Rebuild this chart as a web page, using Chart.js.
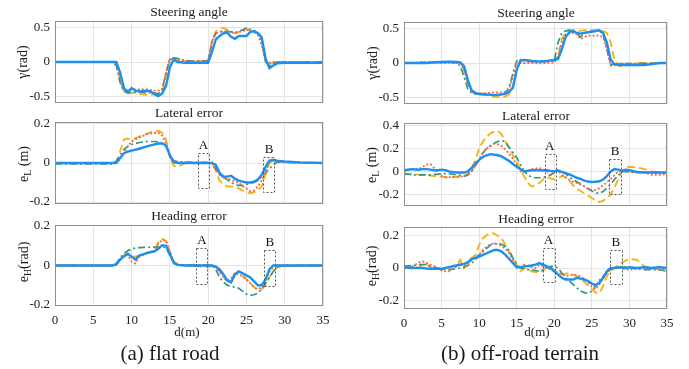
<!DOCTYPE html>
<html>
<head>
<meta charset="utf-8">
<script src="https://cdn.jsdelivr.net/npm/chart.js@4.4.0/dist/chart.umd.min.js"></script>
<style>
  body { margin:0; background:#fff; width:689px; height:369px; position:relative; overflow:hidden;
         font-family:"Liberation Serif","Times New Roman",serif; color:#1a1a1a; }
  canvas { position:absolute; }
  .txt { position:absolute; white-space:nowrap; transform:translate(-50%,-50%); line-height:1; z-index:2; }
  .ttl { font-size:13.5px; }
  .ylab { font-size:14px; transform:translate(-50%,-50%) rotate(-90deg); }
  .ylab sub { font-size:10px; vertical-align:-3px; }
  .xlab { font-size:13px; }
  .cap { font-size:21px; }
</style>
</head>
<body>
<div class="txt ttl" style="left:189px;top:12px">Steering angle</div>
<div class="txt ttl" style="left:536px;top:13px">Steering angle</div>
<div class="txt ttl" style="left:189px;top:113px">Lateral error</div>
<div class="txt ttl" style="left:536px;top:116px">Lateral error</div>
<div class="txt ttl" style="left:189px;top:216px">Heading error</div>
<div class="txt ttl" style="left:536px;top:219px">Heading error</div>

<div class="txt ylab" style="left:23px;top:62px">γ(rad)</div>
<div class="txt ylab" style="left:25px;top:164px">e<sub>L</sub> (m)</div>
<div class="txt ylab" style="left:25px;top:262px">e<sub>H</sub>(rad)</div>
<div class="txt ylab" style="left:373px;top:63px">γ(rad)</div>
<div class="txt ylab" style="left:373px;top:165px">e<sub>L</sub> (m)</div>
<div class="txt ylab" style="left:373px;top:266px">e<sub>H</sub>(rad)</div>

<div class="txt xlab" style="left:187px;top:331px">d(m)</div>
<div class="txt xlab" style="left:537px;top:331px">d(m)</div>
<div class="txt cap" style="left:170px;top:353px">(a) flat road</div>
<div class="txt cap" style="left:520px;top:353px">(b) off-road terrain</div>

<script>
// x ticks shared by every panel
const distTicks = [0, 5, 10, 15, 20, 25, 30, 35];

// ---- flat road: steering angle (rad)
const flatSteerD = [0, 7.5, 8, 8.5, 9, 9.5, 10, 10.5, 11, 12, 12.5, 13, 13.5, 14, 14.5, 15, 15.5, 16, 17, 19, 20, 20.5, 21, 21.5, 22, 22.5, 23, 23.5, 24, 24.5, 25, 25.5, 26, 26.5, 27, 27.5, 28, 28.5, 29, 30, 35];
const flatSteerSolid   = [0, 0, 0, -0.15, -0.38, -0.44, -0.38, -0.42, -0.43, -0.42, -0.43, -0.47, -0.5, -0.46, -0.35, -0.08, 0.04, 0, -0.01, -0.01, -0.01, 0.15, 0.33, 0.38, 0.42, 0.43, 0.37, 0.34, 0.38, 0.38, 0.38, 0.44, 0.45, 0.42, 0.36, 0.05, -0.09, -0.05, -0.02, -0.01, -0.01];
const flatSteerDotted  = [0, 0, 0, -0.25, -0.4, -0.42, -0.4, -0.4, -0.4, -0.4, -0.41, -0.42, -0.42, -0.4, -0.15, 0.04, 0.05, 0.03, 0.01, 0.01, 0.01, 0.3, 0.42, 0.44, 0.45, 0.44, 0.44, 0.42, 0.44, 0.45, 0.47, 0.46, 0.44, 0.4, 0.25, 0, -0.01, 0, 0, 0, 0];
const flatSteerDashDot = [0, 0, -0.05, -0.3, -0.43, -0.45, -0.44, -0.44, -0.44, -0.45, -0.45, -0.45, -0.47, -0.4, -0.15, 0.05, 0.06, 0.05, 0.02, 0.01, 0.02, 0.3, 0.42, 0.44, 0.45, 0.45, 0.44, 0.43, 0.45, 0.47, 0.5, 0.48, 0.46, 0.42, 0.3, 0, -0.06, -0.02, 0, 0, 0];
const flatSteerDashed  = [0, 0, 0, -0.25, -0.44, -0.46, -0.45, -0.45, -0.47, -0.48, -0.48, -0.47, -0.46, -0.44, -0.2, 0.03, 0.06, 0.05, 0.02, 0.01, 0.02, 0.3, 0.45, 0.49, 0.5, 0.47, 0.44, 0.42, 0.44, 0.46, 0.48, 0.47, 0.44, 0.42, 0.32, 0, -0.03, -0.01, 0, 0, 0];

// ---- flat road: lateral error (m)
const flatLatD = [0, 7.5, 8, 8.5, 9, 9.5, 10, 11, 12, 13, 13.5, 14, 14.5, 15, 15.5, 16, 17, 20, 20.5, 21, 21.5, 22, 22.5, 23, 23.5, 24, 24.5, 25, 25.5, 26, 26.5, 27, 27.5, 28, 28.5, 29, 30, 32, 35];
const flatLatSolid   = [0, 0, 0, 0.025, 0.05, 0.058, 0.063, 0.073, 0.085, 0.095, 0.1, 0.1, 0.09, 0.04, 0.004, 0, 0, 0, 0, -0.01, -0.05, -0.07, -0.07, -0.065, -0.08, -0.09, -0.095, -0.1, -0.1, -0.095, -0.085, -0.06, -0.02, 0.012, 0.015, 0.012, 0.008, 0.003, 0];
const flatLatDotted  = [0, 0, 0, 0.02, 0.05, 0.085, 0.11, 0.13, 0.148, 0.155, 0.155, 0.14, 0.1, 0.03, 0.012, 0.006, 0.002, 0, 0, -0.03, -0.06, -0.075, -0.08, -0.085, -0.095, -0.1, -0.12, -0.13, -0.145, -0.14, -0.12, -0.09, -0.04, 0.008, 0.012, 0.008, 0.003, 0, 0];
const flatLatDashDot = [-0.005, -0.005, 0.01, 0.04, 0.07, 0.085, 0.095, 0.105, 0.11, 0.11, 0.108, 0.1, 0.085, 0.04, 0.012, 0.006, 0.004, 0.003, 0, -0.03, -0.06, -0.075, -0.085, -0.1, -0.11, -0.115, -0.115, -0.11, -0.105, -0.1, -0.09, -0.07, -0.05, -0.03, -0.01, 0.004, 0.005, 0.002, 0];
const flatLatDashed  = [0, 0, 0, 0.06, 0.12, 0.125, 0.12, 0.135, 0.15, 0.165, 0.165, 0.155, 0.12, 0.03, -0.015, -0.02, 0, 0, 0, -0.04, -0.09, -0.11, -0.12, -0.12, -0.12, -0.13, -0.14, -0.15, -0.155, -0.15, -0.14, -0.12, -0.06, 0, 0.012, 0.008, 0.003, 0, 0];

// ---- flat road: heading error (rad)
const flatHeadD = [0, 7.5, 8, 8.5, 9, 9.5, 10, 10.5, 11, 12, 13, 13.5, 14, 14.5, 15, 15.5, 16, 17, 19, 20, 20.5, 21, 21.5, 22, 22.5, 23, 23.5, 24, 24.5, 25, 25.5, 26, 26.5, 27, 27.5, 28, 28.5, 29, 30, 35];
const flatHeadSolid   = [0, 0, 0.005, 0.03, 0.045, 0.06, 0.045, 0.03, 0.05, 0.063, 0.072, 0.085, 0.103, 0.1, 0.06, 0.015, 0.003, 0, 0, 0, 0, -0.005, -0.02, -0.045, -0.075, -0.085, -0.045, -0.03, -0.04, -0.05, -0.06, -0.08, -0.1, -0.1, -0.07, -0.02, 0, 0, 0, 0];
const flatHeadDotted  = [0, 0, 0.003, 0.03, 0.05, 0.055, 0.02, 0.01, 0.045, 0.062, 0.075, 0.11, 0.13, 0.125, 0.07, 0.015, 0.005, 0, 0, 0, 0, -0.01, -0.03, -0.06, -0.08, -0.065, -0.04, -0.045, -0.055, -0.07, -0.09, -0.11, -0.12, -0.11, -0.07, -0.03, -0.01, 0, 0, 0];
const flatHeadDashDot = [0, 0, 0.01, 0.04, 0.06, 0.075, 0.083, 0.088, 0.09, 0.092, 0.093, 0.093, 0.095, 0.09, 0.05, 0.01, 0.004, 0.003, 0.002, 0.002, 0, -0.02, -0.06, -0.085, -0.1, -0.105, -0.11, -0.115, -0.13, -0.145, -0.15, -0.148, -0.14, -0.12, -0.09, -0.06, -0.03, -0.008, 0, 0];
const flatHeadDashed  = [0, 0, 0.003, 0.03, 0.05, 0.06, 0.048, 0.045, 0.05, 0.065, 0.075, 0.12, 0.135, 0.125, 0.07, 0.02, 0.008, 0.002, -0.005, -0.01, 0, -0.01, -0.03, -0.06, -0.08, -0.07, -0.04, -0.045, -0.055, -0.07, -0.09, -0.11, -0.125, -0.12, -0.1, -0.06, -0.03, -0.01, -0.003, 0];

// ---- off-road: steering angle (rad)
const offSteerD = [0, 1, 2, 3, 4, 5, 6, 7, 7.5, 8, 8.5, 9, 9.5, 10, 11, 12, 13, 13.5, 14, 14.5, 15, 15.5, 16, 17, 18, 19, 20, 20.5, 21, 21.5, 22, 22.5, 23, 23.5, 24, 24.5, 25, 26, 26.5, 27, 27.5, 28, 28.5, 29, 30, 31, 32, 33, 34, 35];
const offSteerSolid   = [0, 0, 0.002, 0, 0.01, 0.015, 0.02, 0.015, 0.01, -0.05, -0.25, -0.4, -0.44, -0.45, -0.46, -0.47, -0.46, -0.45, -0.42, -0.36, -0.1, 0.04, 0.045, 0.03, 0.02, 0.03, 0.045, 0.06, 0.2, 0.38, 0.45, 0.47, 0.44, 0.43, 0.44, 0.45, 0.46, 0.48, 0.44, 0.3, 0.05, -0.02, -0.025, -0.03, -0.03, -0.03, -0.03, -0.015, 0, 0];
const offSteerDotted  = [0, 0, 0.01, 0.01, 0.01, 0.003, 0.003, 0.003, 0, -0.1, -0.3, -0.42, -0.44, -0.45, -0.44, -0.43, -0.43, -0.42, -0.38, -0.2, 0, 0, 0, 0, -0.005, 0, 0.005, 0.1, 0.3, 0.42, 0.43, 0.44, 0.42, 0.35, 0.38, 0.4, 0.4, 0.4, 0.38, 0.2, -0.04, -0.03, -0.01, -0.01, -0.01, -0.01, -0.01, -0.01, -0.005, 0];
const offSteerDashDot = [0, 0, 0.005, 0.01, 0.01, 0.01, 0.008, 0.005, -0.05, -0.2, -0.38, -0.44, -0.45, -0.46, -0.46, -0.47, -0.47, -0.44, -0.35, -0.15, 0.03, 0.05, 0.04, 0.03, 0.03, 0.03, 0.04, 0.3, 0.44, 0.47, 0.48, 0.46, 0.43, 0.38, 0.44, 0.46, 0.46, 0.47, 0.42, 0.2, -0.02, -0.02, -0.01, -0.01, -0.01, -0.01, -0.005, 0, 0, 0];
const offSteerDashed  = [0, 0, 0, 0.005, 0.005, 0.005, 0.005, 0.003, 0, -0.1, -0.3, -0.42, -0.45, -0.46, -0.47, -0.49, -0.5, -0.49, -0.46, -0.35, -0.1, 0.02, 0.03, 0.02, 0.02, 0.02, 0.03, 0.1, 0.35, 0.45, 0.48, 0.48, 0.47, 0.47, 0.48, 0.48, 0.48, 0.48, 0.47, 0.44, 0.3, 0.05, -0.04, -0.05, -0.02, 0, 0, 0, 0, 0];

// ---- off-road: lateral and heading error share one distance grid
const offErrD = [0, 1, 2, 2.5, 3, 3.5, 4, 4.5, 5, 5.5, 6, 7, 7.5, 8, 8.5, 9, 9.5, 10, 10.5, 11, 11.5, 12, 12.5, 13, 13.5, 14, 14.5, 15, 15.5, 16, 16.5, 17, 17.5, 18, 18.5, 19, 19.5, 20, 20.5, 21, 21.5, 22, 22.5, 23, 23.5, 24, 24.5, 25, 25.5, 26, 26.5, 27, 27.5, 28, 28.5, 29, 29.5, 30, 31, 32, 33, 34, 35];
const offLatSolid = [0.01, 0.02, 0.015, 0.02, 0.02, 0.015, 0.01, 0.01, 0.015, 0.01,
  0, -0.01, -0.01, -0.01, 0, 0.03, 0.07, 0.1, 0.125, 0.14,
  0.15, 0.145, 0.14, 0.13, 0.11, 0.09, 0.065, 0.04, 0.02, 0,
  0.005, 0.01, 0.01, 0.01, 0.008, 0.01, 0.005, 0, 0.01, -0.005,
  -0.015, -0.025, -0.04, -0.055, -0.065, -0.08, -0.088, -0.092, -0.09, -0.085,
  -0.07, -0.04, 0, 0.02, 0.015, 0.005, 0.015, 0.01, -0.005, -0.01,
  -0.01, -0.01, -0.01];
const offLatDotted = [0, 0.02, 0.02, 0.04, 0.06, 0.065, 0.03, -0.02, -0.04, -0.05,
  -0.05, -0.05, -0.045, -0.04, -0.03, 0, 0.05, 0.1, 0.16, 0.2,
  0.22, 0.24, 0.235, 0.22, 0.19, 0.15, 0.11, 0.06, 0, 0.005,
  0.01, 0.02, 0.025, 0.03, 0.02, 0, -0.03, -0.01, 0.01, -0.03,
  -0.05, -0.075, -0.09, -0.1, -0.115, -0.13, -0.15, -0.16, -0.16, -0.145,
  -0.12, -0.095, -0.065, -0.035, 0, 0, 0, -0.005, -0.01, -0.01,
  -0.03, -0.03, -0.02];
const offLatDashDot = [-0.02, -0.03, -0.03, -0.03, -0.03, -0.03, -0.025, -0.025, -0.02, -0.02,
  -0.02, -0.03, -0.035, -0.04, -0.03, 0, 0.05, 0.1, 0.16, 0.2,
  0.22, 0.245, 0.26, 0.27, 0.255, 0.21, 0.165, 0.12, 0.06, 0,
  -0.03, -0.05, -0.055, -0.055, -0.05, -0.045, -0.03, -0.01, 0, 0,
  -0.02, -0.05, -0.07, -0.09, -0.11, -0.13, -0.15, -0.17, -0.185, -0.19,
  -0.175, -0.145, -0.11, -0.07, -0.035, -0.005, 0, -0.005, -0.005, -0.005,
  -0.01, -0.01, -0.01];
const offLatDashed = [-0.02, -0.02, -0.03, -0.03, -0.03, -0.035, -0.04, -0.04, -0.045, -0.05,
  -0.05, -0.045, -0.045, -0.04, -0.02, 0.02, 0.1, 0.2, 0.26, 0.3,
  0.33, 0.345, 0.35, 0.32, 0.26, 0.2, 0.14, 0.08, 0.02, -0.045,
  -0.1, -0.13, -0.12, -0.1, -0.07, -0.05, -0.06, -0.07, -0.06, -0.04,
  -0.05, -0.08, -0.12, -0.15, -0.17, -0.19, -0.21, -0.23, -0.255, -0.265,
  -0.255, -0.23, -0.2, -0.14, -0.07, 0, 0.035, 0.04, 0.035, 0.02,
  0, -0.005, -0.01];

const offHeadSolid = [0.005, 0, 0, 0, -0.003, -0.005, -0.005, -0.005, -0.005, 0,
  0.005, 0.015, 0.02, 0.025, 0.035, 0.055, 0.062, 0.07, 0.08, 0.09,
  0.1, 0.11, 0.11, 0.1, 0.08, 0.055, 0.03, 0.005, 0.005, 0.01,
  0.012, 0.015, 0.02, 0.03, 0.02, 0.01, 0, -0.02, -0.04, -0.06,
  -0.07, -0.07, -0.07, -0.06, -0.065, -0.07, -0.08, -0.095, -0.105, -0.09,
  -0.06, -0.02, 0, 0, 0.002, 0.003, 0, 0.005, 0, 0.005,
  0, 0.005, 0];
const offHeadDotted = [0, 0.005, 0.035, 0.04, 0.03, 0.02, 0.01, 0, -0.015, -0.02,
  -0.02, 0.01, 0.03, 0.01, 0.02, 0.05, 0.065, 0.08, 0.11, 0.13,
  0.145, 0.15, 0.145, 0.135, 0.115, 0.09, 0.05, 0.01, 0, 0.02,
  0.01, 0.005, 0, 0.02, 0.01, 0, -0.01, -0.02, -0.03, -0.035,
  -0.05, -0.045, -0.04, -0.045, -0.05, -0.07, -0.09, -0.115, -0.13, -0.1,
  -0.06, -0.03, -0.01, 0, 0.005, -0.005, -0.01, -0.01, -0.005, 0,
  -0.005, -0.01, 0];
const offHeadDashDot = [0.01, 0.015, 0.02, 0.02, 0.02, 0.01, 0.005, 0, -0.005, -0.01,
  -0.01, -0.005, 0, 0.005, 0.015, 0.03, 0.05, 0.08, 0.1, 0.12,
  0.14, 0.148, 0.15, 0.145, 0.13, 0.105, 0.06, 0.025, 0, -0.005,
  -0.01, -0.01, -0.015, -0.02, -0.01, 0, 0.01, 0.01, 0, -0.03,
  -0.06, -0.08, -0.1, -0.12, -0.14, -0.15, -0.155, -0.14, -0.11, -0.075,
  -0.05, -0.025, -0.005, 0, 0.005, 0.01, 0.005, 0, -0.005, -0.01,
  -0.01, -0.01, -0.02];
const offHeadDashed = [0.01, 0.01, 0, 0.03, 0.025, 0.005, 0, -0.005, -0.01, -0.005,
  0.005, 0.02, 0.05, 0, 0.05, 0.06, 0.08, 0.14, 0.18, 0.2,
  0.215, 0.21, 0.195, 0.18, 0.14, 0.1, 0.06, 0.02, -0.02, 0,
  -0.01, -0.02, -0.025, -0.03, -0.015, 0, 0.01, -0.015, -0.03, -0.04,
  -0.035, -0.03, -0.04, -0.05, -0.07, -0.085, -0.11, -0.13, -0.15, -0.155,
  -0.11, -0.05, -0.02, 0, 0.02, 0.035, 0.045, 0.055, 0.05, 0.01,
  0, -0.01, -0.005];

// dashed comparison windows A and B: [dFrom, dTo, top, bottom]
const flatLatBoxes  = [[18.65, 20.1, 0.05, -0.13], [27.2, 28.7, 0.03, -0.15]];
const flatHeadBoxes = [[18.45, 19.9, 0.088, -0.092], [27.3, 28.8, 0.08, -0.1]];
const offLatBoxes   = [[18.7, 20.1, 0.147, -0.16], [27.3, 28.85, 0.11, -0.196]];
const offHeadBoxes  = [[18.45, 20.0, 0.12, -0.09], [27.4, 29.0, 0.11, -0.1]];
const boxNames = ['A', 'B'];

const lineStyles = [
  { color: '#1c8ff0', width: 2.4, dash: [] },          // solid blue
  { color: '#f2664e', width: 1.8, dash: [2, 2] },      // dotted
  { color: '#2b9a80', width: 1.7, dash: [7, 3, 2, 3] },// dash-dot
  { color: '#f5b21c', width: 1.9, dash: [8, 4] }       // dashed
];

const panels = [
  { rect: [55, 21, 323, 103],  d: flatSteerD, ys: [flatSteerSolid, flatSteerDotted, flatSteerDashDot, flatSteerDashed], min: -0.6, max: 0.6, ticks: [-0.5, 0, 0.5], boxes: [], bottom: false },
  { rect: [55, 122, 323, 204], d: flatLatD, ys: [flatLatSolid, flatLatDotted, flatLatDashDot, flatLatDashed], min: -0.21, max: 0.21, ticks: [-0.2, 0, 0.2], boxes: flatLatBoxes, bottom: false },
  { rect: [55, 225, 323, 306], d: flatHeadD, ys: [flatHeadSolid, flatHeadDotted, flatHeadDashDot, flatHeadDashed], min: -0.205, max: 0.205, ticks: [-0.2, 0, 0.2], boxes: flatHeadBoxes, bottom: true },
  { rect: [404, 22, 667, 104], d: offSteerD, ys: [offSteerSolid, offSteerDotted, offSteerDashDot, offSteerDashed], min: -0.6, max: 0.6, ticks: [-0.5, 0, 0.5], boxes: [], bottom: false },
  { rect: [404, 123, 667, 206], d: offErrD, ys: [offLatSolid, offLatDotted, offLatDashDot, offLatDashed], min: -0.3, max: 0.42, ticks: [-0.2, 0, 0.2, 0.4], boxes: offLatBoxes, bottom: false },
  { rect: [404, 227, 667, 309], d: offErrD, ys: [offHeadSolid, offHeadDotted, offHeadDashDot, offHeadDashed], min: -0.25, max: 0.25, ticks: [-0.2, 0, 0.2], boxes: offHeadBoxes, bottom: true }
];

const YW = 45, PT = 16, PR = 16;
const tickFont = { family: '"Liberation Serif", serif', size: 13 };

// frame round the axes plus the A/B windows
const framePlugin = {
  id: 'frame',
  afterDatasetsDraw(chart) {
    const { ctx, chartArea: a, scales: { x, y } } = chart;
    const boxes = chart.options.plugins.frame.boxes;
    ctx.save();
    ctx.strokeStyle = '#555';
    ctx.lineWidth = 1;
    ctx.setLineDash([2, 2]);
    ctx.fillStyle = '#111';
    ctx.font = '13px "Liberation Serif", serif';
    ctx.textAlign = 'center';
    ctx.textBaseline = 'bottom';
    boxes.forEach((b, i) => {
      const x0 = x.getPixelForValue(b[0]), x1 = x.getPixelForValue(b[1]);
      const y0 = y.getPixelForValue(b[2]), y1 = y.getPixelForValue(b[3]);
      ctx.strokeRect(Math.round(x0) + 0.5, Math.round(y0) + 0.5, Math.round(x1 - x0), Math.round(y1 - y0));
      ctx.fillText(boxNames[i], (x0 + x1) / 2, y0 - 1);
    });
    ctx.setLineDash([]);
    ctx.strokeStyle = '#8f8f8f';
    ctx.strokeRect(a.left + 0.5, a.top + 0.5, a.right - a.left - 1, a.bottom - a.top - 1);
    ctx.restore();
  }
};

panels.forEach(p => {
  const [l, t, r, b] = p.rect;
  const xH = p.bottom ? 24 : 0, padB = p.bottom ? 4 : 16;
  const cv = document.createElement('canvas');
  const w = YW + (r - l) + PR, h = PT + (b - t) + xH + padB;
  cv.width = w; cv.height = h;
  cv.style.width = w + 'px'; cv.style.height = h + 'px';
  cv.style.left = (l - YW) + 'px'; cv.style.top = (t - PT) + 'px';
  document.body.appendChild(cv);

  new Chart(cv, {
    type: 'line',
    data: {
      datasets: p.ys.map((vals, i) => ({
        data: p.d.map((d, k) => ({ x: d, y: vals[k] })),
        borderColor: lineStyles[i].color,
        borderWidth: lineStyles[i].width,
        borderDash: lineStyles[i].dash,
        pointRadius: 0,
        tension: 0,
        fill: false
      }))
    },
    options: {
      responsive: false,
      animation: false,
      events: [],
      layout: { padding: { top: PT, right: PR, bottom: padB, left: 0 } },
      plugins: { legend: { display: false }, tooltip: { enabled: false }, frame: { boxes: p.boxes } },
      scales: {
        x: {
          type: 'linear', min: 0, max: 35,
          afterBuildTicks: s => { s.ticks = distTicks.map(v => ({ value: v })); },
          afterFit: s => { s.height = xH; },
          grid: { color: '#e4e4e4', drawTicks: false },
          border: { display: false },
          ticks: { display: p.bottom, padding: 7, maxRotation: 0, color: '#222', font: tickFont, callback: v => String(v) }
        },
        y: {
          min: p.min, max: p.max,
          afterBuildTicks: s => { s.ticks = p.ticks.map(v => ({ value: v })); },
          afterFit: s => { s.width = YW; },
          grid: { color: '#e4e4e4', drawTicks: false },
          border: { display: false },
          ticks: { padding: 5, color: '#222', font: tickFont, callback: v => String(v) }
        }
      }
    },
    plugins: [framePlugin]
  });
});
</script>
</body>
</html>
